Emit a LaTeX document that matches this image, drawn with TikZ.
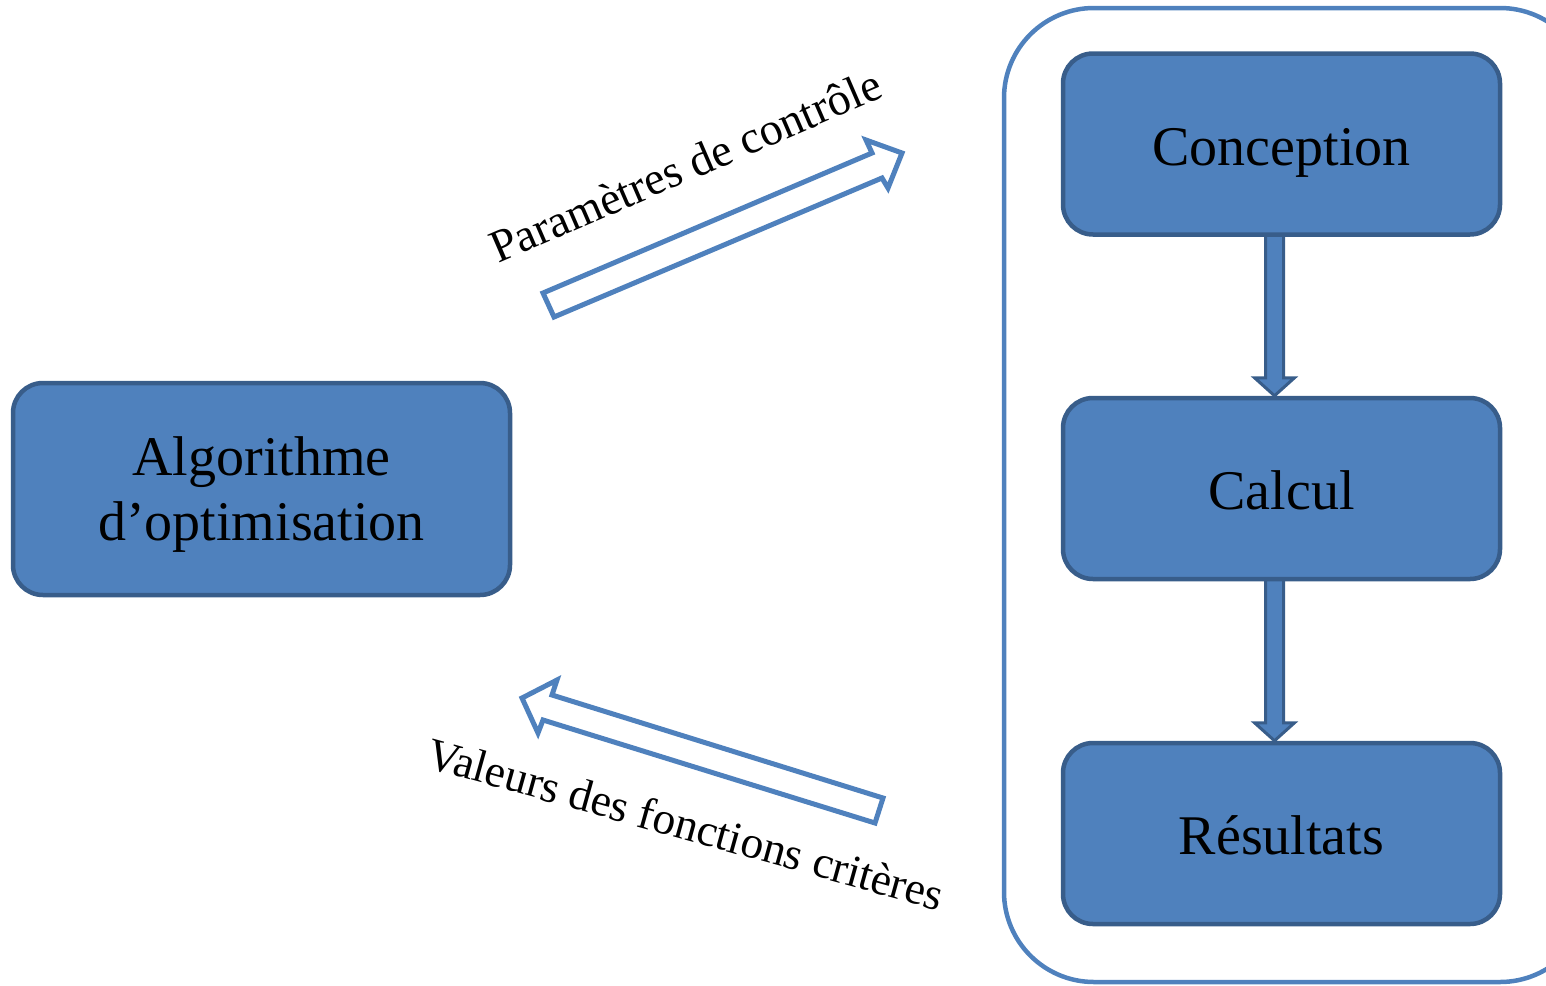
\documentclass[tikz,border=0pt]{standalone}
\usepackage{fontspec}
\setmainfont{Liberation Serif}
\usetikzlibrary{calc,backgrounds}
\definecolor{boxfill}{HTML}{4F81BD}
\definecolor{boxline}{HTML}{385D8A}
\tikzset{
  block/.style={draw=boxline, fill=boxfill, line width=4.5pt, rounded corners=30pt,
    minimum width=437pt, minimum height=181pt, align=center, inner sep=0pt,
    font=\fontsize{56}{65}\selectfont},
  stage/.style={block, text height=42pt, text depth=0pt},
  hollow/.style={draw=boxfill, fill=white, line width=5pt, line join=miter},
  flowarrow/.style={draw=boxline, fill=boxfill, line width=3pt, line join=miter},
  frame/.style={draw=boxfill, line width=4.5pt, rounded corners=90pt},
  tag/.style={font=\fontsize{46}{52}\selectfont, inner sep=0pt}
}
\begin{document}
\begin{tikzpicture}[x=1pt,y=-1pt]
\useasboundingbox (0,0) rectangle (1546,985);

% process container, open past the right margin
\draw[frame] (1004,8) rectangle (1590,982);

% blocks
\node[block, minimum width=497pt, minimum height=212pt] (algo) at (261.5,489)
  {\rule{0pt}{50pt}Algorithme\\d’optimisation};
\node[stage] (conc) at (1281.5,144) {Conception};
\node[stage] (calc) at (1281.5,488.5) {Calcul};
\node[stage] (res)  at (1281.5,833.5) {Résultats};

% downward block arrows between the steps
\begin{scope}[on background layer]
\foreach \a/\b in {conc/calc, calc/res}{
  \coordinate (s) at ($(\a.south)+(-7,-4)$);
  \coordinate (t) at ($(\b.north)+(-7,0)$);
  \draw[flowarrow] ($(s)+(-9,0)$) -- ($(t)+(-9,-18)$) -- ($(t)+(-20,-18)$) -- (t)
    -- ($(t)+(20,-18)$) -- ($(t)+(9,-18)$) -- ($(s)+(9,0)$) -- cycle;
}
\end{scope}

% hollow arrow towards the process
\coordinate (p1) at (543,293);
\coordinate (p2) at (872,153);
\coordinate (p3) at (866,140);
\coordinate (p4) at (902,153);
\coordinate (p5) at (888,188);
\coordinate (p6) at (882,178);
\coordinate (p7) at (554,317);
\draw[hollow] (p1) -- (p2) -- (p3) -- (p4) -- (p5) -- (p6) -- (p7) -- cycle;
\node[tag, rotate=23.4, anchor=base west] (ptext) at (498,264) {Paramètres de contrôle};

% hollow arrow back to the algorithm
\coordinate (q1) at (883,798);
\coordinate (q2) at (552,695);
\coordinate (q3) at (557,680);
\coordinate (q4) at (522,698);
\coordinate (q5) at (538,733);
\coordinate (q6) at (543,720);
\coordinate (q7) at (875,823);
\draw[hollow] (q1) -- (q2) -- (q3) -- (q4) -- (q5) -- (q6) -- (q7) -- cycle;
\node[tag, rotate=-15.6, anchor=base west, font=\fontsize{45.5}{52}\selectfont] (vtext) at (424,767) {Valeurs des fonctions critères};
\end{tikzpicture}
\end{document}
